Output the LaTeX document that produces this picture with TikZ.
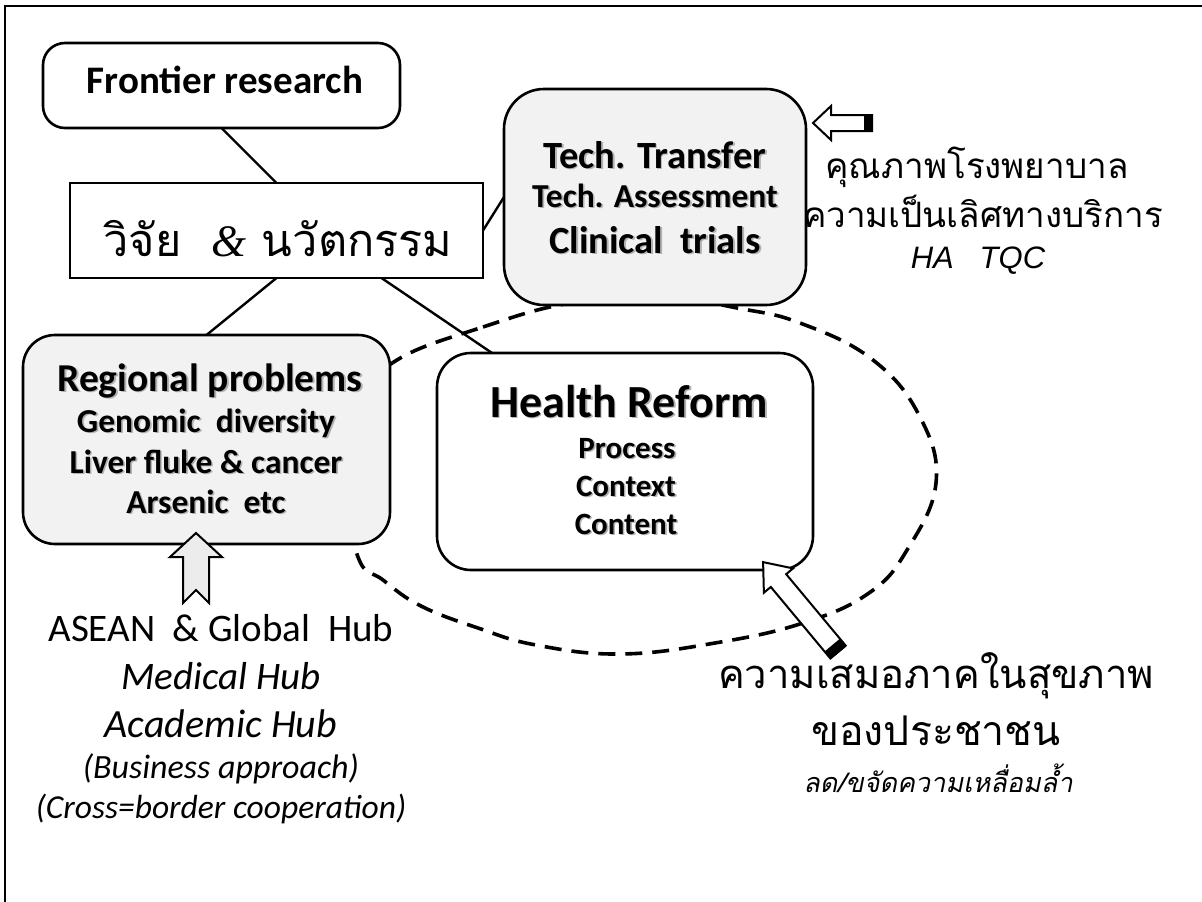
\documentclass[tikz,border=0pt]{standalone}
\usepackage{fontspec}
\setmainfont{Carlito}
\newfontfamily\thaifont[Script=Thai]{Loma}
\newfontfamily\thaislant[Script=Thai,FakeSlant=0.2]{Loma}
\newfontfamily\arialfont{Liberation Sans}
\newfontfamily\timesfont{Liberation Serif}
\usetikzlibrary{calc}
\definecolor{boxgray}{HTML}{F2F2F2}
\definecolor{arrowgray}{HTML}{ECECEC}
\newcommand\fsz[1]{\fontsize{#1pt}{#1pt}\selectfont}
% text with a soft grey drop shadow: name, position, style, text
\newcommand\shtext[4]{%
  \node[txt,text=black!30,#3] (#1-sh) at ([shift={(1.6pt,-1.6pt)}]#2) {#4};
  \node[txt,#3] (#1) at (#2) {#4};}

\begin{document}
\begin{tikzpicture}[x=1pt,y=-1pt,
  box/.style={draw,line width=2.6pt,inner sep=0pt,outer sep=0pt},
  rbox/.style={box,rounded corners=#1},
  rbox/.default=30pt,
  txt/.style={anchor=base,inner sep=0pt,outer sep=0pt},
  link/.style={line width=2.4pt},
  loop/.style={line width=3.6pt,dash pattern=on 17pt off 10pt},
  blockarrow/.style={line width=2pt,line join=miter}]

\useasboundingbox (0,0) rectangle (1202,902);
\fill[white] (0,0) rectangle (1202,902);
\draw[line width=1.8pt] (5,902) -- (5,6) -- (1202,6);

% dashed loop round the reform box
\draw[loop] plot[smooth cycle,tension=0.7] coordinates {
  (397,360) (483,327) (570,303) (660,296) (737,308) (800,323) (873,360)
  (920,417) (936,483) (907,550) (869,593) (803,623) (715,643) (620,654)
  (536,645) (478,628) (421,606) (383,580) (358,557) (345,480) (365,400)};

% boxes
\node[rbox=22pt,fill=white,minimum width=357pt,minimum height=85pt] (frontier) at (221.5,85.5) {};
\node[box,fill=white,minimum width=413pt,minimum height=95pt] (thai) at (276.5,230.5) {};
\node[rbox=40pt,fill=boxgray,minimum width=302pt,minimum height=216pt] (tech) at (655,197) {};
\node[rbox=32pt,fill=boxgray,minimum width=367pt,minimum height=209pt] (regional) at (206.5,439.5) {};
\node[rbox=34pt,fill=white,minimum width=376pt,minimum height=217pt] (reform) at (625,461.5) {};

% connectors
\draw[link] (frontier.south) -- (thai.north);
\draw[link] (thai.east) -- (tech.west);
\draw[link] (thai.south) -- (regional.north);
\draw[link] ([xshift=105pt]thai.south) -- ([xshift=-133pt]reform.north);

% box texts
\node[txt] (frontier-t) at (225,93) {\fsz{39}\bfseries Frontier research};
\node[txt] (thai-t) at (278,256) {\thaifont\fsz{45}วิจัย\ \ {\timesfont\itshape\&} นวัตกรรม};

\shtext{tech-a}{655,168}{}{\fsz{38.5}\bfseries Tech. Transfer}
\shtext{tech-b}{655,207}{}{\fsz{33.5}\bfseries Tech. Assessment}
\shtext{tech-c}{655,253}{}{\fsz{38.5}\bfseries Clinical\ \ trials}

\shtext{reg-a}{210,391}{}{\fsz{39.5}\bfseries Regional problems}
\shtext{reg-b}{206,432}{}{\fsz{33.5}\bfseries Genomic\ \ diversity}
\shtext{reg-c}{206,473}{}{\fsz{33.5}\bfseries Liver fluke \& cancer}
\shtext{reg-d}{206,513}{}{\fsz{33.5}\bfseries Arsenic\ \ etc}

\shtext{ref-a}{629,417}{}{\fsz{46}\bfseries Health Reform}
\shtext{ref-b}{627,458}{}{\fsz{31}\bfseries Process}
\shtext{ref-c}{626,496}{}{\fsz{31}\bfseries Context}
\shtext{ref-d}{626,534}{}{\fsz{31}\bfseries Content}

% side labels
\node[txt] (qual-a) at (977,178) {\thaifont\fsz{35}คุณภาพโรงพยาบาล};
\node[txt] (qual-b) at (983,227) {\thaifont\fsz{35}ความเป็นเลิศทางบริการ};
\node[txt] (qual-c) at (978,268) {\arialfont\itshape\fsz{31}HA\ \ \ TQC};

\node[txt] (hub-a) at (221,641) {\fsz{39}ASEAN\ \ \& Global\ \ Hub};
\node[txt] (hub-b) at (221,689) {\fsz{39}\itshape Medical Hub};
\node[txt] (hub-c) at (221,737) {\fsz{40}\itshape Academic Hub};
\node[txt] (hub-d) at (221,778) {\fsz{34}\itshape (Business approach)};
\node[txt] (hub-e) at (221,818) {\fsz{33.5}\itshape (Cross=border cooperation)};

\node[txt] (eq-a) at (936,688) {\thaifont\fsz{40}ความเสมอภาคในสุขภาพ};
\node[txt] (eq-b) at (936,745) {\thaifont\fsz{41}ของประชาชน};
\node[txt] (eq-c) at (938,792) {\thaislant\fsz{27}ลด/ขจัดความเหลื่อมล้ำ};

% block arrows
\draw[blockarrow,fill=arrowgray] (196,533) -- (222,557) -- (209,557) -- (209,603)
  -- (196,590) -- (183,603) -- (183,557) -- (170,557) -- cycle;

\draw[blockarrow,fill=white] (813,123) -- (831,106) -- (831,115) -- (872,115)
  -- (872,131) -- (831,131) -- (831,140) -- cycle;
\fill (864,115) rectangle (873,131);

\begin{scope}[shift={(838,652)},rotate=129.8]
  \draw[blockarrow,fill=white] (0,-10) -- (93,-10) -- (93,-19) -- (117,0)
    -- (93,19) -- (93,10) -- (0,10) -- cycle;
  \fill (-1,-10) rectangle (9,10);
\end{scope}
\end{tikzpicture}
\end{document}
